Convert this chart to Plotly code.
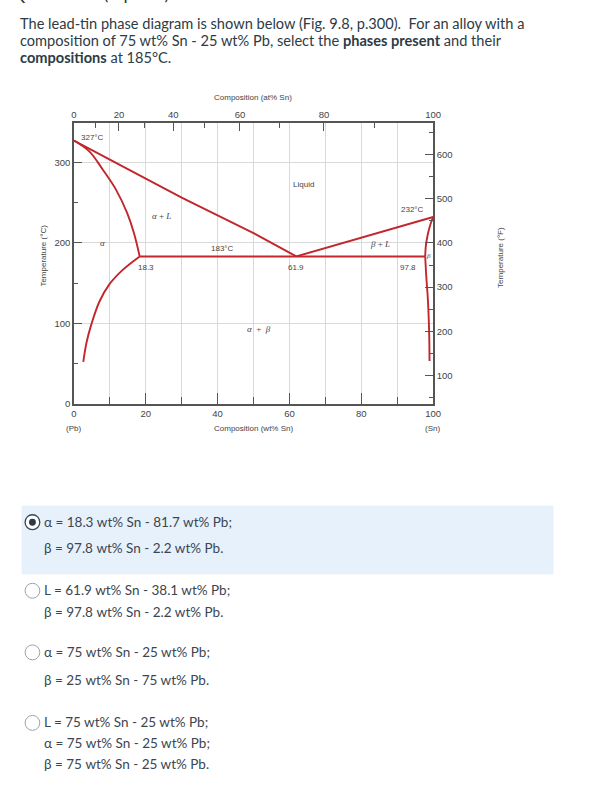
import plotly.graph_objects as go

W, H = 589, 793

# ---- data: phase boundaries of the Pb-Sn diagram (wt% Sn, temperature in °C) ----
liq_left_x = [0, 10, 20, 30, 40, 50, 61.9]
liq_left_t = [327, 303, 279, 256, 234, 212, 183]
sol_left_x = [0, 4.4, 8.0, 11.7, 14.8, 16.7, 18.3]
sol_left_t = [327, 313, 291, 266, 237, 212, 183]
solv_left_x = [18.3, 13.5, 9.8, 7.1, 4.8, 3.5, 2.6]
solv_left_t = [183, 166, 148, 127, 98, 76, 52]
eut_x = [18.3, 97.8]
eut_t = [183, 183]
liq_right_x = [61.9, 100]
liq_right_t = [183, 232]
sol_right_x = [100, 99.2, 98.5, 98.0, 97.8]
sol_right_t = [232, 222, 210, 197, 183]
solv_right_x = [97.8, 98.1, 98.55, 98.9, 99.0]
solv_right_t = [183, 158, 129, 88, 53]

wt_ticks = [0, 20, 40, 60, 80, 100]
wt_minor = [10, 30, 50, 70, 90]
at_ticks = [0, 20, 40, 60, 80, 100]
at_minor = [10, 30, 50, 70, 90]
c_ticks = [0, 100, 200, 300]
c_minor = [50, 150, 250]
f_ticks = [100, 200, 300, 400, 500, 600]
f_minor = [50, 150, 250, 350, 450, 550, 650]

SN, PB = 118.71, 207.2


def at_to_wt(a):
    return 100.0 * a * SN / (a * SN + (100 - a) * PB)


# ---- pixel helpers for page layout ----
def px(x):
    return x / W


def py(y):
    return 1 - y / H


RED = "#c1272d"
AX = "#555555"
GRID = "#d9d9d9"
TXT = "#444444"
CF = "Liberation Sans"
PAGE = "#2d3b45"

fig = go.Figure()
curves = [
    (liq_left_x, liq_left_t, "linear"),
    (sol_left_x, sol_left_t, "spline"),
    (solv_left_x, solv_left_t, "spline"),
    (eut_x, eut_t, "linear"),
    (liq_right_x, liq_right_t, "linear"),
    (sol_right_x, sol_right_t, "spline"),
    (solv_right_x, solv_right_t, "spline"),
]
for xs, ts, shp in curves:
    fig.add_trace(go.Scatter(x=xs, y=ts, mode="lines",
                             line=dict(color=RED, width=1.9, shape=shp),
                             hoverinfo="skip", showlegend=False))
# register the secondary axes
fig.add_trace(go.Scatter(x=[None], y=[None], xaxis="x2", yaxis="y2",
                         mode="lines", showlegend=False, hoverinfo="skip"))

x0p, x1p = 72.3, 438.3
y0p, y1p = 406.3, 124.0
c_top = (y0p - y1p) / 0.81
f_bot, f_top = 36.0, 671.0

axis_common = dict(showline=True, linecolor=AX, linewidth=1.5, ticks="inside",
                   tickcolor=AX, tickwidth=1, zeroline=False, fixedrange=True,
                   tickfont=dict(family=CF, size=9.5, color=TXT))

fig.update_layout(
    width=W, height=H, margin=dict(l=0, r=0, t=0, b=0),
    paper_bgcolor="white", plot_bgcolor="white", showlegend=False,
    xaxis=dict(domain=[px(x0p), px(x1p)], range=[0, 100],
               tickmode="array", tickvals=wt_ticks, ticktext=[str(v) for v in wt_ticks],
               ticklen=11, showgrid=True, gridcolor=GRID, gridwidth=1,
               minor=dict(tickvals=wt_minor, ticks="inside", ticklen=7, tickcolor=AX,
                          showgrid=True, gridcolor=GRID, gridwidth=1),
               **axis_common),
    xaxis2=dict(overlaying="x", side="top", anchor="y2", range=[0, 100],
                tickmode="array", tickvals=[at_to_wt(a) for a in at_ticks],
                ticktext=[str(a) for a in at_ticks], ticklen=8, showgrid=False,
                minor=dict(tickvals=[at_to_wt(a) for a in at_minor], ticks="inside",
                           ticklen=5, tickcolor=AX, showgrid=False),
                **axis_common),
    yaxis=dict(domain=[py(y0p), py(y1p)], range=[0, c_top],
               tickmode="array", tickvals=c_ticks, ticktext=[str(v) for v in c_ticks],
               ticklen=8, showgrid=True, gridcolor=GRID, gridwidth=1,
               minor=dict(tickvals=c_minor, ticks="inside", ticklen=4, tickcolor=AX,
                          showgrid=False),
               **axis_common),
    yaxis2=dict(overlaying="y", side="right", anchor="x2", range=[f_bot, f_top],
                tickmode="array", tickvals=f_ticks, ticktext=[str(v) for v in f_ticks],
                ticklen=8, showgrid=False,
                minor=dict(tickvals=f_minor, ticks="inside", ticklen=4, tickcolor=AX,
                           showgrid=False),
                **axis_common),
)

ann = []


def data_lab(text, x, y, size=8, xanchor="center", serif=False):
    ann.append(dict(text=text, x=x, y=y, xref="x", yref="y", showarrow=False,
                    xanchor=xanchor, yanchor="middle",
                    font=dict(family="Liberation Serif" if serif else CF,
                              size=size, color=TXT)))


data_lab("327°C", 1.5, 331, xanchor="left")
data_lab("Liquid", 63.9, 272.6)
data_lab("232°C", 94.2, 241.7)
data_lab("<i>α</i> + <i>L</i>", 24.3, 232.7, size=9, serif=True)
data_lab("<i>α</i>", 7.9, 200, size=9, serif=True)
data_lab("183°C", 41.3, 193)
data_lab("<i>β</i> + <i>L</i>", 85.2, 198, size=9, serif=True)
data_lab("<i>β</i>", 98.7, 183.5, size=7, serif=True)
data_lab("18.3", 20.0, 169.5)
data_lab("61.9", 61.7, 169.5)
data_lab("97.8", 93.0, 169.5)
data_lab("<i>α</i>  +  <i>β</i>", 51.6, 92.8, size=9, serif=True)


def page_lab(text, x, y, size=8, color=TXT, family=CF, xanchor="center", angle=0):
    ann.append(dict(text=text, x=px(x), y=py(y), xref="paper", yref="paper",
                    showarrow=False, xanchor=xanchor, yanchor="middle",
                    textangle=angle, font=dict(family=family, size=size, color=color)))


page_lab("Composition (at% Sn)", 255, 98)
page_lab("Composition (wt% Sn)", 255, 431)
page_lab("(Pb)", 72, 431)
page_lab("(Sn)", 437.5, 431)
page_lab("Temperature (°C)", 41, 257, angle=-90)
page_lab("Temperature (°F)", 507, 259, angle=-90)

# question text
page_lab("Question 5 (1 point)", 6, -7, size=18, color=PAGE, family="Lato", xanchor="left")
QS = 14.6
page_lab("The lead-tin phase diagram is shown below (Fig. 9.8, p.300).&nbsp; For an alloy with a",
         15, 24, size=QS, color=PAGE, family="Lato", xanchor="left")
page_lab("composition of 75 wt% Sn - 25 wt% Pb, select the <b>phases present</b> and their",
         15, 41, size=QS, color=PAGE, family="Lato", xanchor="left")
page_lab("<b>compositions</b> at 185°C.", 15, 57.5, size=QS, color=PAGE, family="Lato",
         xanchor="left")

options = [
    (["α = 18.3 wt% Sn - 81.7 wt% Pb;", "β = 97.8 wt% Sn - 2.2 wt% Pb."], [525, 551]),
    (["L = 61.9 wt% Sn - 38.1 wt% Pb;", "β = 97.8 wt% Sn - 2.2 wt% Pb."], [594, 616]),
    (["α = 75 wt% Sn - 25 wt% Pb;", "β = 25 wt% Sn - 75 wt% Pb."], [656, 684]),
    (["L = 75 wt% Sn - 25 wt% Pb;", "α = 75 wt% Sn - 25 wt% Pb;",
      "β = 75 wt% Sn - 25 wt% Pb."], [727, 748, 769]),
]
for lines, ys in options:
    for t, yy in zip(lines, ys):
        page_lab(t, 40, yy, size=13.5, color="#3b4650", family="Lato", xanchor="left")

shapes = [dict(type="rect", xref="paper", yref="paper", x0=px(19), x1=px(561),
               y0=py(578), y1=py(509), fillcolor="#e6f1fc", line=dict(width=0),
               layer="below")]
for i, (lines, ys) in enumerate(options):
    cy = ys[0] + 0.5
    r = 7.5
    shapes.append(dict(type="circle", xref="paper", yref="paper",
                       x0=px(30 - r), x1=px(30 + r), y0=py(cy + r), y1=py(cy - r),
                       fillcolor="white",
                       line=dict(color="#3b4650" if i == 0 else "#9aa3ab",
                                 width=1.3 if i == 0 else 1)))
    if i == 0:
        d = 3.5
        shapes.append(dict(type="circle", xref="paper", yref="paper",
                           x0=px(30 - d), x1=px(30 + d), y0=py(cy + d), y1=py(cy - d),
                           fillcolor="#2d3b45", line=dict(width=0)))

fig.update_layout(annotations=ann, shapes=shapes)
fig.write_html(
    "out.html",
    config={"displayModeBar": False},
    post_script=("document.body.style.margin='0';"
                 "document.body.style.overflow='hidden';"
                 "document.documentElement.style.overflow='hidden';"),
)
